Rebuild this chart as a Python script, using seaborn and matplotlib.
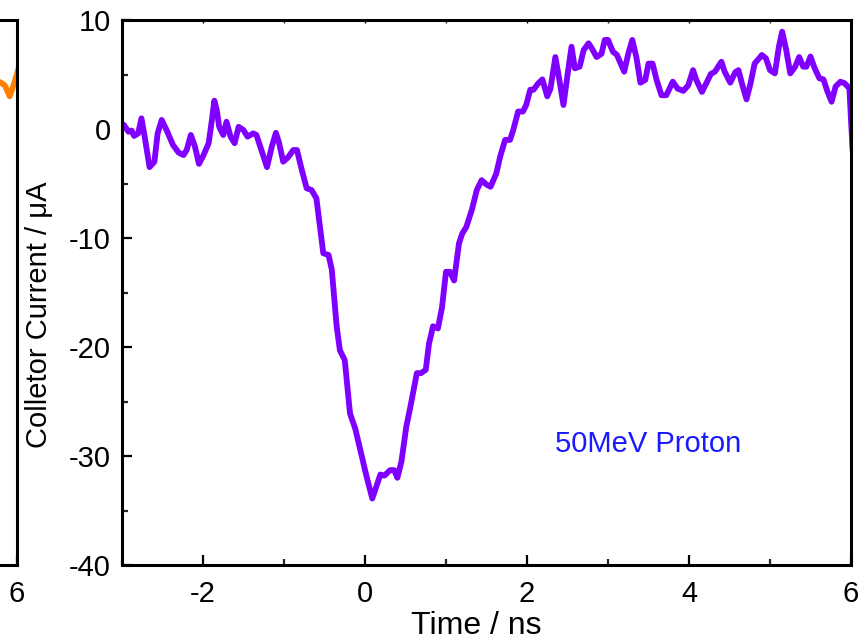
import numpy as np
import pandas as pd
import matplotlib
matplotlib.use("Agg")
import matplotlib.pyplot as plt
from matplotlib.ticker import MultipleLocator
import seaborn as sns

# Collector current trace for the 50 MeV proton shot
time_ns = [
    -2.98, -2.92, -2.88, -2.85, -2.80, -2.76, -2.72, -2.66, -2.60, -2.56,
    -2.51, -2.45, -2.37, -2.30, -2.24, -2.20, -2.15, -2.10, -2.05, -2.00,
    -1.93, -1.89, -1.86, -1.83, -1.80, -1.75, -1.71, -1.66, -1.61, -1.56,
    -1.50, -1.45, -1.38, -1.34, -1.28, -1.21, -1.15, -1.10, -1.06, -1.01,
    -0.95, -0.885, -0.84, -0.78, -0.72, -0.66, -0.60, -0.515, -0.45, -0.41,
    -0.35, -0.31, -0.25, -0.185, -0.12, -0.06, 0.02, 0.09,
    0.14, 0.19, 0.24, 0.31, 0.36, 0.40, 0.45, 0.51, 0.56, 0.64,
    0.69, 0.75, 0.79, 0.84, 0.90, 0.95, 1.00, 1.05, 1.10, 1.16,
    1.20, 1.25, 1.32, 1.38, 1.44, 1.50, 1.55, 1.62, 1.67, 1.73,
    1.79, 1.83, 1.89, 1.95, 1.99, 2.04, 2.08,
    2.14, 2.19, 2.25, 2.29, 2.35, 2.40, 2.45, 2.50, 2.55, 2.59,
    2.65, 2.70, 2.76, 2.80, 2.86, 2.92, 2.96, 3.00, 3.06, 3.11,
    3.20, 3.25, 3.30, 3.35, 3.40, 3.46, 3.50, 3.55, 3.60, 3.66,
    3.72, 3.80, 3.86, 3.93, 3.99, 4.05,
    4.09, 4.16, 4.22, 4.27, 4.32, 4.40, 4.44, 4.51, 4.57, 4.61,
    4.66, 4.71, 4.76, 4.81, 4.90, 4.95, 5.00, 5.06, 5.11, 5.15,
    5.20, 5.25, 5.31, 5.36, 5.41, 5.45, 5.50, 5.55, 5.61, 5.66,
    5.71, 5.76, 5.81, 5.87, 5.92, 5.98, 6.02,
]
current_uA = [
    0.4, -0.25, -0.15, -0.64, -0.4, 0.98, -0.7, -3.5, -3.0, -0.4,
    0.83, -0.1, -1.47, -2.17, -2.39, -1.9, -0.55, -1.6, -3.2, -2.5,
    -1.3, 0.83, 2.6, 1.75, 0.2, -0.55, 0.67, -0.7, -1.3, 0.2,
    -0.1, -0.7, -0.4, -0.55, -1.9, -3.5, -1.6, -0.35, -1.3, -3.0,
    -2.6, -1.93, -1.93, -3.76, -5.44, -5.6, -6.36, -11.4, -11.56, -12.9,
    -18.1, -20.3, -21.2, -26.1, -27.5, -29.4, -31.9, -33.9,
    -32.8, -31.7, -31.8, -31.3, -31.3, -32.0, -30.5, -27.3, -25.5, -22.4,
    -22.4, -22.1, -19.7, -18.1, -18.3, -16.4, -13.1, -13.1, -13.9, -10.5,
    -9.6, -9.0, -7.4, -5.6, -4.7, -5.1, -5.3, -4.1, -2.5, -1.0,
    -1.0, -0.1, 1.6, 1.6, 2.2, 3.6, 3.6,
    4.2, 4.55, 3.0, 3.7, 6.6, 4.5, 2.2, 4.95, 7.55, 5.57,
    5.72, 7.25, 7.86, 7.4, 6.6, 6.9, 8.17, 8.17, 7.1, 6.8,
    5.26, 6.9, 8.17, 6.6, 4.25, 4.5, 6.0, 6.0, 4.5, 3.1,
    3.1, 4.34, 3.7, 3.5, 4.0, 5.4,
    4.5, 3.4, 4.3, 5.05, 5.26, 6.17, 5.26, 4.25, 5.2, 5.4,
    4.0, 2.72, 4.2, 6.0, 6.79, 6.48, 5.4, 5.1, 7.55, 8.93,
    7.25, 5.1, 5.7, 6.6, 5.72, 5.72, 6.65, 5.6, 4.65, 4.55,
    3.42, 2.5, 3.9, 4.34, 4.2, 3.73, -2.0,
]

# Tail of the neighbouring panel's trace
side_time_ns = [5.79, 5.85, 5.91, 5.97, 6.02]
side_current_uA = [4.3, 4.0, 3.0, 4.3, 5.6]

x_ticks = [-2, 0, 2, 4, 6]
y_ticks = [-40, -30, -20, -10, 0, 10]
annotation = "50MeV Proton"

sns.set_theme(style="ticks")
plt.rcParams["font.family"] = ["Liberation Sans", "DejaVu Sans"]
plt.rcParams["axes.unicode_minus"] = False
plt.rcParams["text.color"] = "black"
plt.rcParams["axes.labelcolor"] = "black"

FS = 21
W, H = 864, 641
fig = plt.figure(figsize=(W / 100, H / 100), dpi=100)

ax_l, ax_r, ax_t, ax_b = 122, 851, 20, 565
ax_w = (ax_r - ax_l) / W
ax_h = (ax_b - ax_t) / H

# Neighbouring panel, mostly off the left edge of the canvas
side_right = 17
side = fig.add_axes([(side_right - (ax_r - ax_l)) / W, 1 - ax_b / H, ax_w, ax_h])
side.patch.set_visible(False)

ax = fig.add_axes([ax_l / W, 1 - ax_b / H, ax_w, ax_h])
ax.patch.set_visible(False)

main_df = pd.DataFrame({"Time": time_ns, "Current": current_uA})
side_df = pd.DataFrame({"Time": side_time_ns, "Current": side_current_uA})

sns.lineplot(data=main_df, x="Time", y="Current", ax=ax, sort=False, estimator=None,
             color="#8000ff", linewidth=4.2, solid_joinstyle="round", solid_capstyle="round")
sns.lineplot(data=side_df, x="Time", y="Current", ax=side, sort=False, estimator=None,
             color="#ff8000", linewidth=4.2, solid_joinstyle="round", solid_capstyle="round")

for a in (ax, side):
    a.set_xlim(-3, 6)
    a.set_ylim(-40, 10)
    a.set_xticks(x_ticks)
    a.set_yticks(y_ticks)
    a.xaxis.set_minor_locator(MultipleLocator(1))
    a.yaxis.set_minor_locator(MultipleLocator(5))
    for s in a.spines.values():
        s.set_visible(True)
        s.set_linewidth(2.2)
        s.set_color("black")
    a.tick_params(axis="both", which="major", direction="in", length=7, width=1.6,
                  labelsize=FS, colors="black")
    a.tick_params(axis="both", which="minor", direction="in", length=4, width=1.6)
    a.tick_params(axis="x", which="both", top=True, pad=11)
    a.tick_params(axis="y", which="both", pad=8)
    a.set_xlabel("")
    a.set_ylabel("")
    for t in a.xaxis.get_major_ticks() + a.xaxis.get_minor_ticks():
        t.tick2line.set_markersize(2)
        t.tick2line.set_color("#666666")
        t.tick2line.set_markeredgewidth(1)

# Only the last time label of the neighbouring panel lands on the canvas
side.set_yticklabels([])
side.set_xticklabels(["" for _ in x_ticks[:-1]] + [str(x_ticks[-1])])

ax.set_xlabel("Time / ns", fontsize=23)
ax.set_ylabel("Colletor Current / \u03bcA", fontsize=FS)
ax.xaxis.set_label_coords((476 - ax_l) / (ax_r - ax_l), (ax_b - 611) / (ax_b - ax_t))
ax.yaxis.set_label_coords((53 - ax_l) / (ax_r - ax_l), 1 - (315 - ax_t) / (ax_b - ax_t))

ax.text(2.35, -28.9, annotation, color="#1a1aff", fontsize=FS, ha="left", va="center")

fig.savefig("out.png", dpi=100)
